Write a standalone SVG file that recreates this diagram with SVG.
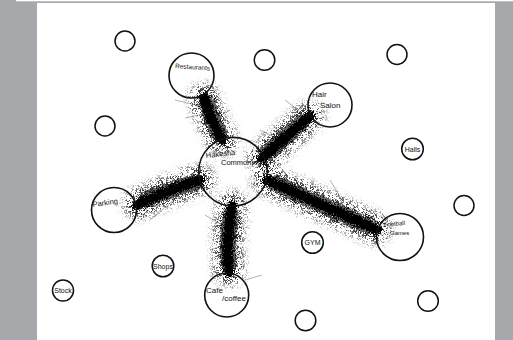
<svg xmlns="http://www.w3.org/2000/svg" width="513" height="340" viewBox="0 0 513 340">
<style>
.n{fill:none;stroke:#111;stroke-width:1.6}
.s{fill:none;stroke:#111;stroke-width:1.5}
.t{font-family:"Liberation Sans",Arial,sans-serif;font-size:7px;fill:#111}
.core{fill:none;stroke:#000;stroke-width:10;stroke-linecap:round}
.mid{fill:none;stroke:#000;stroke-width:17;stroke-linecap:round}
.halo{fill:none;stroke:#000;stroke-width:30;stroke-linecap:round}
.hair{fill:none;stroke:#222;stroke-width:0.5;opacity:0.7}
</style>
<defs>
<filter id="fuzz" x="-30%" y="-30%" width="160%" height="160%">
<feTurbulence type="fractalNoise" baseFrequency="0.9" numOctaves="2" seed="3"/>
<feDisplacementMap in="SourceGraphic" scale="8" xChannelSelector="R" yChannelSelector="G"/>
</filter>
<filter id="speck" x="-30%" y="-30%" width="160%" height="160%">
<feGaussianBlur in="SourceGraphic" stdDeviation="4" result="b"/>
<feTurbulence type="turbulence" baseFrequency="0.5 1.2" numOctaves="2" seed="5" result="n"/>
<feColorMatrix in="n" type="matrix" values="0 0 0 0 0  0 0 0 0 0  0 0 0 0 0  7 0 0 0 -1.6" result="a"/>
<feComposite in="a" in2="b" operator="in" result="c"/>
<feTurbulence type="fractalNoise" baseFrequency="0.8" numOctaves="1" seed="9" result="d"/>
<feDisplacementMap in="c" in2="d" scale="10" xChannelSelector="R" yChannelSelector="G"/>
</filter>
</defs>
<rect width="513" height="340" fill="#a7a8ac"/>
<rect x="16" y="0" width="497" height="1.3" fill="#fff"/>
<rect x="37" y="3" width="458" height="337" fill="#fff"/>
<g id="connectors">
<g filter="url(#speck)" opacity="0.85">
<path class="halo" d="M204 98 Q210 118 222 140"/>
<path class="halo" d="M309 117 Q285 138 262 158"/>
<path class="halo" d="M138 204 Q168 190 200 180"/>
<path class="halo" d="M232 206 Q226 240 229 271"/>
<path class="halo" d="M267 180 Q322 205 376 229"/>
</g>
<g filter="url(#fuzz)" opacity="0.6">
<path class="mid" d="M208 104 Q211 118 219 134"/>
<path class="mid" d="M302 122 Q285 138 267 153"/>
<path class="mid" d="M146 200 Q168 190 194 183"/>
<path class="mid" d="M231 214 Q226 240 229 264"/>
<path class="mid" d="M276 184 Q322 205 368 226"/>
</g>
<g filter="url(#fuzz)">
<path class="core" d="M204 97 Q210 118 222 140"/>
<path class="core" d="M310 116 Q285 138 262 158"/>
<path class="core" d="M137 205 Q168 190 200 180"/>
<path class="core" d="M232 206 Q226 240 229 272"/>
<path class="core" d="M267 180 Q322 205 377 230"/>
</g>
<path class="hair" d="M175 100 L200 106 M185 118 L212 112 M230 110 L210 122 M160 195 L180 185 M150 220 L176 198 M170 178 L195 190 M245 225 L225 235 M210 250 L232 242 M240 255 L226 262 M300 112 L285 100 M295 140 L275 128 M320 190 L300 200 M350 215 L340 200 M360 235 L345 222 M245 280 L262 275 M140 188 L160 196 M260 130 L280 140 M330 180 L342 200 M300 215 L318 205 M205 215 L222 225"/>
</g>
<g id="restaurants"><circle class="n" cx="191.5" cy="75.5" r="22.5"/><text class="t" x="175" y="68" transform="rotate(4 175 68)" style="font-size:6.5px">Restaurants</text></g>
<g id="hair-salon"><circle class="n" cx="330" cy="105" r="22"/><text class="t" x="312" y="97" style="font-size:8px">Hair</text><text class="t" x="320" y="108" style="font-size:8px">Salon</text></g>
<g id="hakesha"><circle class="n" cx="233" cy="171.7" r="34.3"/><text class="t" x="206" y="158" transform="rotate(-6 206 158)" style="font-size:7.5px">Hakesha</text><text class="t" x="221" y="165" style="font-size:7.5px">Commonings</text></g>
<g id="parking"><circle class="n" cx="114" cy="210" r="22.5"/><text class="t" x="93" y="207" transform="rotate(-8 93 207)" style="font-size:7.5px">Parking</text></g>
<g id="football"><circle class="n" cx="400" cy="237" r="23.5"/><text class="t" x="384" y="227" transform="rotate(-6 384 227)" style="font-size:6px">Football</text><text class="t" x="390" y="235" style="font-size:6px">Games</text></g>
<g id="cafe"><circle class="n" cx="226.7" cy="295" r="22"/><text class="t" x="206" y="293" style="font-size:8px">Cafe</text><text class="t" x="222" y="301" style="font-size:8px">/coffee</text></g>
<g id="shops"><circle class="s" cx="163" cy="266" r="10.8"/><text class="t" x="163" y="268.5" text-anchor="middle">Shops</text></g>
<g id="stock"><circle class="s" cx="63" cy="290.5" r="10.5"/><text class="t" x="63" y="293" text-anchor="middle">Stock</text></g>
<g id="gym"><circle class="s" cx="312.5" cy="242.5" r="10.8"/><text class="t" x="312.5" y="245" text-anchor="middle">GYM</text></g>
<g id="halls"><circle class="s" cx="412.5" cy="149" r="10.8"/><text class="t" x="412.5" y="151.5" text-anchor="middle">Halls</text></g>
<g id="empty1"><circle class="s" cx="125" cy="41" r="10"/></g>
<g id="empty2"><circle class="s" cx="264.5" cy="60" r="10.3"/></g>
<g id="empty3"><circle class="s" cx="397" cy="54.5" r="10"/></g>
<g id="empty4"><circle class="s" cx="105" cy="126" r="10"/></g>
<g id="empty5"><circle class="s" cx="464" cy="205.5" r="10"/></g>
<g id="empty6"><circle class="s" cx="305.5" cy="320.5" r="10.3"/></g>
<g id="empty7"><circle class="s" cx="428" cy="301" r="10.3"/></g>
</svg>
